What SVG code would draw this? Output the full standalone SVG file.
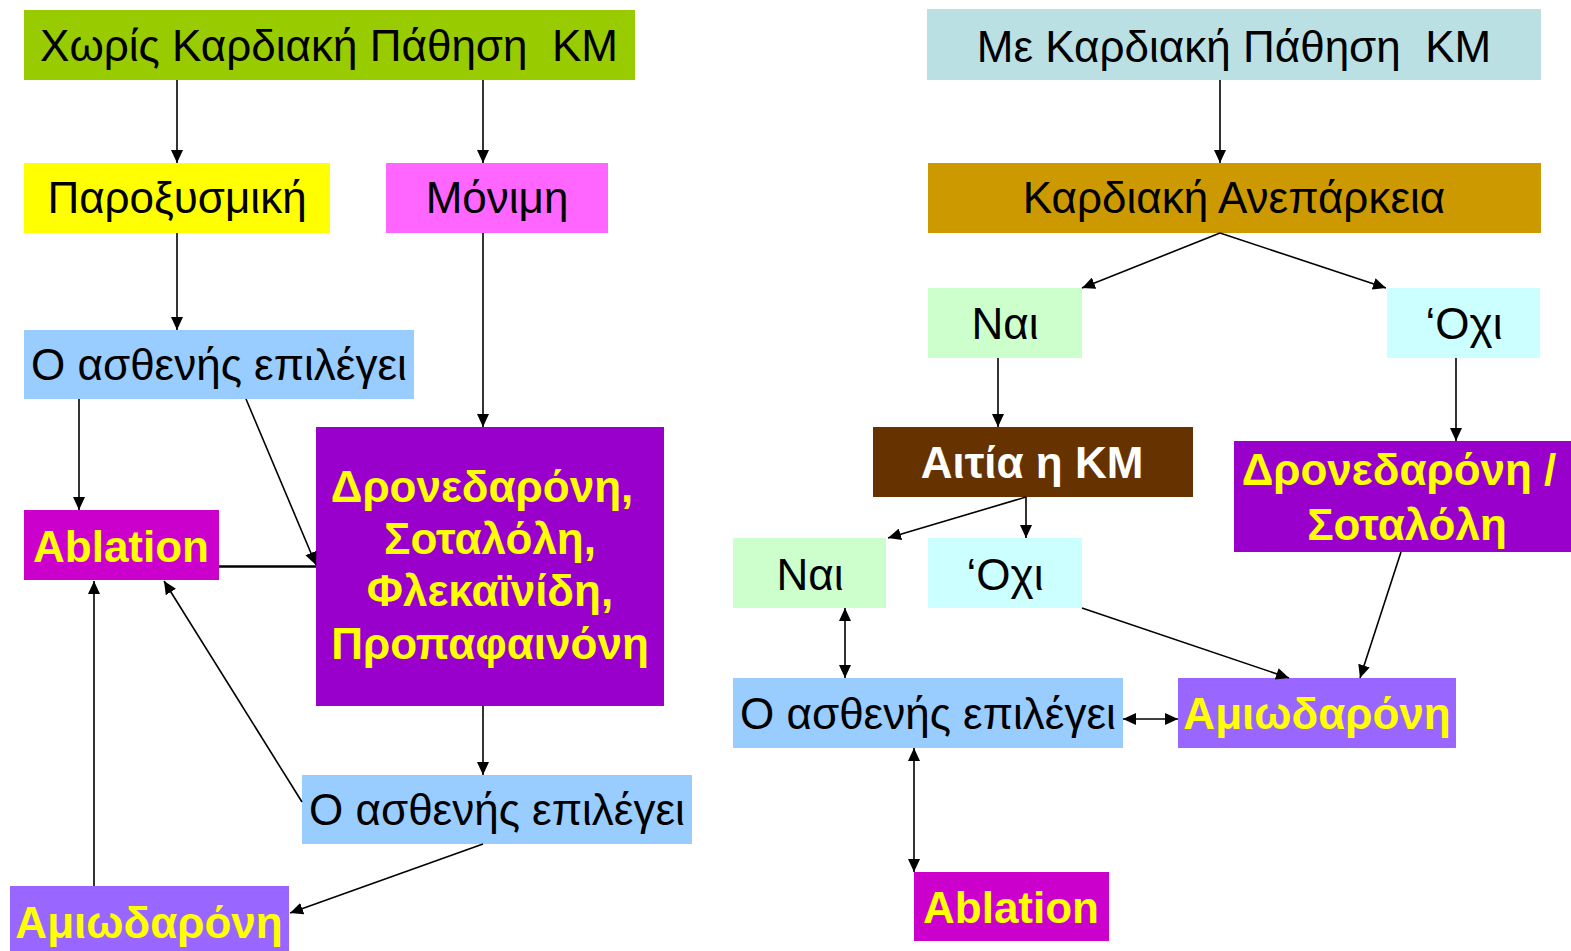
<svg xmlns="http://www.w3.org/2000/svg" width="1571" height="951" viewBox="0 0 1571 951">
  <defs>
    <marker id="arrow" viewBox="0 0 13 12" refX="13" refY="6" markerWidth="13" markerHeight="12" markerUnits="userSpaceOnUse" orient="auto-start-reverse">
      <path d="M0,0 L13,6 L0,12 z" fill="#000"/>
    </marker>
    <style>
      .box text { font-family: "Liberation Sans", Arial, sans-serif; font-size: 44px; text-anchor: middle; white-space: pre; }
      .reg { fill: #000; }
      .bold { fill: #FFFF00; font-weight: bold; }
      .wbold { fill: #FFFFFF; font-weight: bold; }
      .conn line { stroke: #000; stroke-width: 1.6; fill: none; }
      .conn .arr { marker-end: url(#arrow); }
      .conn .both { marker-start: url(#arrow); marker-end: url(#arrow); }
    </style>
  </defs>
  <rect width="1571" height="951" fill="#FFFFFF"/>

  <!-- left column: without heart disease -->
  <g id="n-no-disease" class="box">
    <rect x="24" y="10" width="611" height="70" fill="#99CC00"/>
    <text class="reg" x="329" y="61">Χωρίς Καρδιακή Πάθηση  ΚΜ</text>
  </g>
  <g id="n-paroxysmal" class="box">
    <rect x="24" y="163" width="306" height="70" fill="#FFFF00"/>
    <text class="reg" x="177" y="213">Παροξυσμική</text>
  </g>
  <g id="n-permanent" class="box">
    <rect x="386" y="163" width="222" height="70" fill="#FF66FF"/>
    <text class="reg" x="497" y="213">Μόνιμη</text>
  </g>
  <g id="n-choice-1" class="box">
    <rect x="24" y="330" width="390" height="69" fill="#99CCFF"/>
    <text class="reg" x="219" y="380">Ο ασθενής επιλέγει</text>
  </g>
  <g id="n-ablation-left" class="box">
    <rect x="24" y="510" width="195" height="70" fill="#CC00CC"/>
    <text class="bold" x="121" y="562">Ablation</text>
  </g>
  <g id="n-drugs-left" class="box">
    <rect x="316" y="427" width="348" height="279" fill="#9900CC"/>
    <text class="bold" x="482" y="502">Δρονεδαρόνη,</text>
    <text class="bold" x="490" y="554">Σοταλόλη,</text>
    <text class="bold" x="490" y="606">Φλεκαϊνίδη,</text>
    <text class="bold" x="490" y="659">Προπαφαινόνη</text>
  </g>
  <g id="n-choice-2" class="box">
    <rect x="302" y="775" width="390" height="69" fill="#99CCFF"/>
    <text class="reg" x="497" y="825">Ο ασθενής επιλέγει</text>
  </g>
  <g id="n-amiodarone-left" class="box">
    <rect x="10" y="886" width="279" height="70" fill="#9966FF"/>
    <text class="bold" x="149" y="938">Αμιωδαρόνη</text>
  </g>

  <!-- right column: with heart disease -->
  <g id="n-with-disease" class="box">
    <rect x="927" y="9" width="614" height="71" fill="#BBE0E3"/>
    <text class="reg" x="1234" y="62">Με Καρδιακή Πάθηση  ΚΜ</text>
  </g>
  <g id="n-heart-failure" class="box">
    <rect x="928" y="163" width="613" height="70" fill="#CC9900"/>
    <text class="reg" x="1234" y="213">Καρδιακή Ανεπάρκεια</text>
  </g>
  <g id="n-yes-1" class="box">
    <rect x="928" y="288" width="154" height="70" fill="#CCFFCC"/>
    <text class="reg" x="1005" y="339">Ναι</text>
  </g>
  <g id="n-no-1" class="box">
    <rect x="1387" y="288" width="153" height="70" fill="#CCFFFF"/>
    <text class="reg" x="1464" y="339">‘Οχι</text>
  </g>
  <g id="n-cause" class="box">
    <rect x="873" y="427" width="320" height="70" fill="#663300"/>
    <text class="wbold" x="1032" y="478">Αιτία η ΚΜ</text>
  </g>
  <g id="n-drugs-right" class="box">
    <rect x="1234" y="441" width="340" height="111" fill="#9900CC"/>
    <text class="bold" x="1399" y="485">Δρονεδαρόνη /</text>
    <text class="bold" x="1407" y="540">Σοταλόλη</text>
  </g>
  <g id="n-yes-2" class="box">
    <rect x="733" y="538" width="153" height="70" fill="#CCFFCC"/>
    <text class="reg" x="810" y="590">Ναι</text>
  </g>
  <g id="n-no-2" class="box">
    <rect x="928" y="538" width="154" height="70" fill="#CCFFFF"/>
    <text class="reg" x="1005" y="590">‘Οχι</text>
  </g>
  <g id="n-choice-3" class="box">
    <rect x="733" y="678" width="390" height="70" fill="#99CCFF"/>
    <text class="reg" x="928" y="729">Ο ασθενής επιλέγει</text>
  </g>
  <g id="n-amiodarone-right" class="box">
    <rect x="1178" y="678" width="278" height="70" fill="#9966FF"/>
    <text class="bold" x="1317" y="729">Αμιωδαρόνη</text>
  </g>
  <g id="n-ablation-right" class="box">
    <rect x="914" y="872" width="195" height="69" fill="#CC00CC"/>
    <text class="bold" x="1011" y="923">Ablation</text>
  </g>

  <!-- connectors -->
  <g id="connectors" class="conn">
    <line class="arr" x1="177" y1="80" x2="177" y2="163"/>
    <line class="arr" x1="483" y1="80" x2="483" y2="163"/>
    <line class="arr" x1="177" y1="233" x2="177" y2="330"/>
    <line class="arr" x1="483" y1="233" x2="483" y2="427"/>
    <line class="arr" x1="79" y1="399" x2="79" y2="510"/>
    <line class="arr" x1="246" y1="399" x2="316" y2="565"/>
    <line x1="219" y1="566.5" x2="316" y2="566.5" style="stroke-width:2.6"/>
    <line class="arr" x1="483" y1="706" x2="483" y2="775"/>
    <line class="arr" x1="302" y1="802" x2="164" y2="581"/>
    <line class="arr" x1="483" y1="844" x2="290" y2="913"/>
    <line class="arr" x1="94" y1="886" x2="94" y2="581"/>

    <line class="arr" x1="1220" y1="80" x2="1220" y2="163"/>
    <line class="arr" x1="1220" y1="233" x2="1082" y2="288"/>
    <line class="arr" x1="1220" y1="233" x2="1386" y2="288"/>
    <line class="arr" x1="998" y1="358" x2="998" y2="427"/>
    <line class="arr" x1="1456" y1="358" x2="1456" y2="441"/>
    <line class="arr" x1="1026" y1="497" x2="888" y2="538"/>
    <line class="arr" x1="1026" y1="497" x2="1026" y2="538"/>
    <line class="both" x1="845" y1="608" x2="845" y2="678"/>
    <line class="arr" x1="1082" y1="608" x2="1289" y2="678"/>
    <line class="arr" x1="1401" y1="552" x2="1360" y2="678"/>
    <line class="both" x1="1123" y1="719" x2="1178" y2="719"/>
    <line class="both" x1="914" y1="748" x2="914" y2="872"/>
  </g>
</svg>
